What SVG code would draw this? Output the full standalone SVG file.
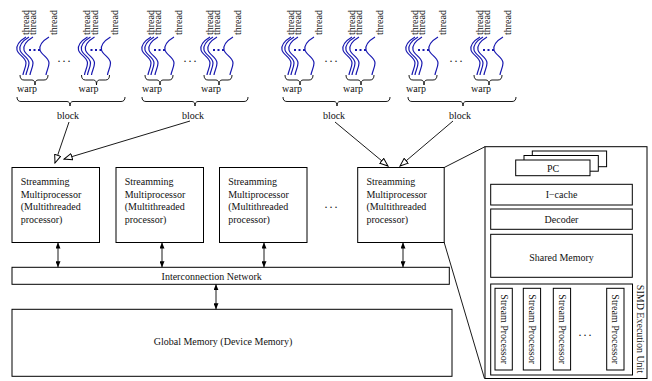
<svg xmlns="http://www.w3.org/2000/svg" xmlns:xlink="http://www.w3.org/1999/xlink" width="652" height="381" viewBox="0 0 652 381">
<style>
text{font-family:"Liberation Serif","Times New Roman",serif;font-size:10px;fill:#111}
.box{fill:#fff;stroke:#000;stroke-width:1}
.sq{fill:none;stroke:#1818b0;stroke-width:1.2}
.dots{fill:none;stroke:#1818b0;stroke-width:2;stroke-dasharray:2 2.5}
.br{fill:none;stroke:#000;stroke-width:0.9}
.ln{fill:none;stroke:#000;stroke-width:0.9}
.mid{text-anchor:middle}
.ell{font-size:12px;letter-spacing:2px;text-anchor:middle}
</style>
<defs>
<path id="sq" class="sq" d="M0,37 C-5,40 -10,45 -9,50 C-8,55 0,57 0,63 C0,68 -3,72 -3,75"/>
<g id="wl">
<use xlink:href="#sq" href="#sq" transform="translate(1,0)"/>
<use xlink:href="#sq" href="#sq" transform="translate(4,0)"/>
<use xlink:href="#sq" href="#sq" transform="translate(8,0)"/>
<use xlink:href="#sq" href="#sq" transform="translate(24,0)"/>
<path class="dots" d="M4,50 H15.5"/>
<path class="br" d="M-5,75 Q-5,80 -1,80 L7,80 Q10,80 10,85 Q10,80 13,80 L19,80 Q23,80 23,75"/>
</g>
<marker id="open" markerUnits="userSpaceOnUse" markerWidth="10" markerHeight="8" refX="7" refY="3" orient="auto" viewBox="0 0 8 6">
<path d="M0.5,0.5 L7,3 L0.5,5.5 Z" fill="#fff" stroke="#000" stroke-width="0.8"/>
</marker>
<marker id="solid" markerUnits="userSpaceOnUse" markerWidth="6" markerHeight="5" refX="6" refY="2.5" orient="auto-start-reverse" viewBox="0 0 6 5">
<path d="M0,0 L6,2.5 L0,5 Z" fill="#000"/>
</marker>
</defs>

<g id="warps">
<g id="warp1" transform="translate(25,0)"><use xlink:href="#wl" href="#wl"/>
<text transform="translate(3.5,35) rotate(-90)">thread</text><text transform="translate(11.2,35) rotate(-90)">thread</text><text transform="translate(31.8,35) rotate(-90)">thread</text><text class="mid" x="2" y="92">warp</text></g>
<g id="warp2" transform="translate(86.5,0)"><use xlink:href="#wl" href="#wl"/>
<text transform="translate(3.5,35) rotate(-90)">thread</text><text transform="translate(11.2,35) rotate(-90)">thread</text><text transform="translate(31.8,35) rotate(-90)">thread</text><text class="mid" x="2" y="92">warp</text></g>
<g id="warp3" transform="translate(150,0)"><use xlink:href="#wl" href="#wl"/>
<text transform="translate(3.5,35) rotate(-90)">thread</text><text transform="translate(11.2,35) rotate(-90)">thread</text><text transform="translate(31.8,35) rotate(-90)">thread</text><text class="mid" x="2" y="92">warp</text></g>
<g id="warp4" transform="translate(209,0)"><use xlink:href="#wl" href="#wl"/>
<text transform="translate(3.5,35) rotate(-90)">thread</text><text transform="translate(11.2,35) rotate(-90)">thread</text><text transform="translate(31.8,35) rotate(-90)">thread</text><text class="mid" x="2" y="92">warp</text></g>
<g id="warp5" transform="translate(290,0)"><use xlink:href="#wl" href="#wl"/>
<text transform="translate(3.5,35) rotate(-90)">thread</text><text transform="translate(11.2,35) rotate(-90)">thread</text><text transform="translate(31.8,35) rotate(-90)">thread</text><text class="mid" x="2" y="92">warp</text></g>
<g id="warp6" transform="translate(351,0)"><use xlink:href="#wl" href="#wl"/>
<text transform="translate(3.5,35) rotate(-90)">thread</text><text transform="translate(11.2,35) rotate(-90)">thread</text><text transform="translate(31.8,35) rotate(-90)">thread</text><text class="mid" x="2" y="92">warp</text></g>
<g id="warp7" transform="translate(414,0)"><use xlink:href="#wl" href="#wl"/>
<text transform="translate(3.5,35) rotate(-90)">thread</text><text transform="translate(11.2,35) rotate(-90)">thread</text><text transform="translate(31.8,35) rotate(-90)">thread</text><text class="mid" x="2" y="92">warp</text></g>
<g id="warp8" transform="translate(479,0)"><use xlink:href="#wl" href="#wl"/>
<text transform="translate(3.5,35) rotate(-90)">thread</text><text transform="translate(11.2,35) rotate(-90)">thread</text><text transform="translate(31.8,35) rotate(-90)">thread</text><text class="mid" x="2" y="92">warp</text></g>
<text class="ell" x="65" y="62">...</text>
<text class="ell" x="191" y="62">...</text>
<text class="ell" x="332" y="62">...</text>
<text class="ell" x="457" y="62">...</text>
</g>

<g id="block1"><path class="br" d="M17,97 Q17,101.5 21,101.5 L67,101.5 Q70,101.5 70,106 Q70,101.5 73,101.5 L121,101.5 Q125,101.5 125,97"/><text class="mid" x="68" y="119">block</text></g>
<g id="block2"><path class="br" d="M142,97 Q142,101.5 146,101.5 L192,101.5 Q195,101.5 195,106 Q195,101.5 198,101.5 L244,101.5 Q248,101.5 248,97"/><text class="mid" x="193" y="119">block</text></g>
<g id="block3"><path class="br" d="M283,97 Q283,101.5 287,101.5 L334,101.5 Q337,101.5 337,106 Q337,101.5 340,101.5 L386,101.5 Q390,101.5 390,97"/><text class="mid" x="334" y="119">block</text></g>
<g id="block4"><path class="br" d="M408,97 Q408,101.5 412,101.5 L460,101.5 Q463,101.5 463,106 Q463,101.5 466,101.5 L512,101.5 Q516,101.5 516,97"/><text class="mid" x="460" y="119">block</text></g>

<g id="sm1"><rect class="box" x="12" y="167.5" width="87.5" height="75"/><text x="20.7" y="185">Streamming</text><text x="20.7" y="197.5">Multiprocessor</text><text x="20.7" y="210">(Multithreaded</text><text x="20.7" y="222.5">processor)</text></g>
<g id="sm2"><rect class="box" x="116" y="167.5" width="87.5" height="75"/><text x="124.7" y="185">Streamming</text><text x="124.7" y="197.5">Multiprocessor</text><text x="124.7" y="210">(Multithreaded</text><text x="124.7" y="222.5">processor)</text></g>
<g id="sm3"><rect class="box" x="219.5" y="167.5" width="87.5" height="75"/><text x="228.2" y="185">Streamming</text><text x="228.2" y="197.5">Multiprocessor</text><text x="228.2" y="210">(Multithreaded</text><text x="228.2" y="222.5">processor)</text></g>
<text class="ell" x="332" y="208">...</text>
<g id="sm4"><rect class="box" x="357.7" y="167.5" width="86.5" height="75"/><text x="366.4" y="185">Streamming</text><text x="366.4" y="197.5">Multiprocessor</text><text x="366.4" y="210">(Multithreaded</text><text x="366.4" y="222.5">processor)</text></g>

<g id="interconnect"><rect class="box" x="12" y="267.3" width="437.3" height="17"/><text class="mid" x="211.7" y="279.5">Interconnection Network</text></g>
<g id="globalmem"><rect class="box" x="12" y="309.3" width="440" height="67"/><text class="mid" x="223" y="345">Global Memory (Device Memory)</text></g>

<g id="connectors">
<path class="ln" d="M69,122 L55,163" marker-end="url(#open)"/>
<path class="ln" d="M190,121 L64,159" marker-end="url(#open)"/>
<path class="ln" d="M335,122 L388,166" marker-end="url(#open)"/>
<path class="ln" d="M453,121 L400,166" marker-end="url(#open)"/>
<path class="ln" d="M58,242.5 V267.3" marker-start="url(#solid)" marker-end="url(#solid)"/>
<path class="ln" d="M162,242.5 V267.3" marker-start="url(#solid)" marker-end="url(#solid)"/>
<path class="ln" d="M264,242.5 V267.3" marker-start="url(#solid)" marker-end="url(#solid)"/>
<path class="ln" d="M403,242.5 V267.3" marker-start="url(#solid)" marker-end="url(#solid)"/>
<path class="ln" d="M216,284.3 V309.3" marker-start="url(#solid)" marker-end="url(#solid)"/>
<path class="ln" d="M444.2,167.5 L485,146.7"/>
<path class="ln" d="M444.2,242.5 L484.5,378.5"/>
</g>

<g id="smdetail">
<rect class="box" x="485" y="146.7" width="162" height="231.8"/>
<g id="pc">
<rect class="box" x="532.3" y="151" width="74.3" height="15.7"/>
<rect class="box" x="524" y="155.5" width="74.3" height="15.7"/>
<rect class="box" x="515.7" y="160" width="74.3" height="15.7"/>
<text class="mid" x="553" y="171.5">PC</text>
</g>
<g id="icache"><rect class="box" x="490.7" y="184.3" width="141.6" height="20.7"/><text class="mid" x="561.5" y="198">I−cache</text></g>
<g id="decoder"><rect class="box" x="490.7" y="209" width="141.6" height="20.3"/><text class="mid" x="561.5" y="222.5">Decoder</text></g>
<g id="sharedmem"><rect class="box" x="490.7" y="234.3" width="141.6" height="43"/><text class="mid" x="561.5" y="261">Shared Memory</text></g>
<g id="simd">
<rect class="box" x="490.7" y="284" width="141.8" height="91"/>
<g id="sp1"><rect class="box" x="495" y="288.3" width="17.3" height="81.7"/><text class="mid" transform="translate(500.6,329.2) rotate(90)">Stream Processor</text></g>
<g id="sp2"><rect class="box" x="523.3" y="288.3" width="17.3" height="81.7"/><text class="mid" transform="translate(528.9,329.2) rotate(90)">Stream Processor</text></g>
<g id="sp3"><rect class="box" x="553.3" y="288.3" width="17.3" height="81.7"/><text class="mid" transform="translate(558.9,329.2) rotate(90)">Stream Processor</text></g>
<text class="ell" x="586" y="336">...</text>
<g id="sp4"><rect class="box" x="606.7" y="288.3" width="17.3" height="81.7"/><text class="mid" transform="translate(612.3,329.2) rotate(90)">Stream Processor</text></g>
<text class="mid" transform="translate(637,329) rotate(90)">SIMD Execution Unit</text>
</g>
</g>
</svg>
